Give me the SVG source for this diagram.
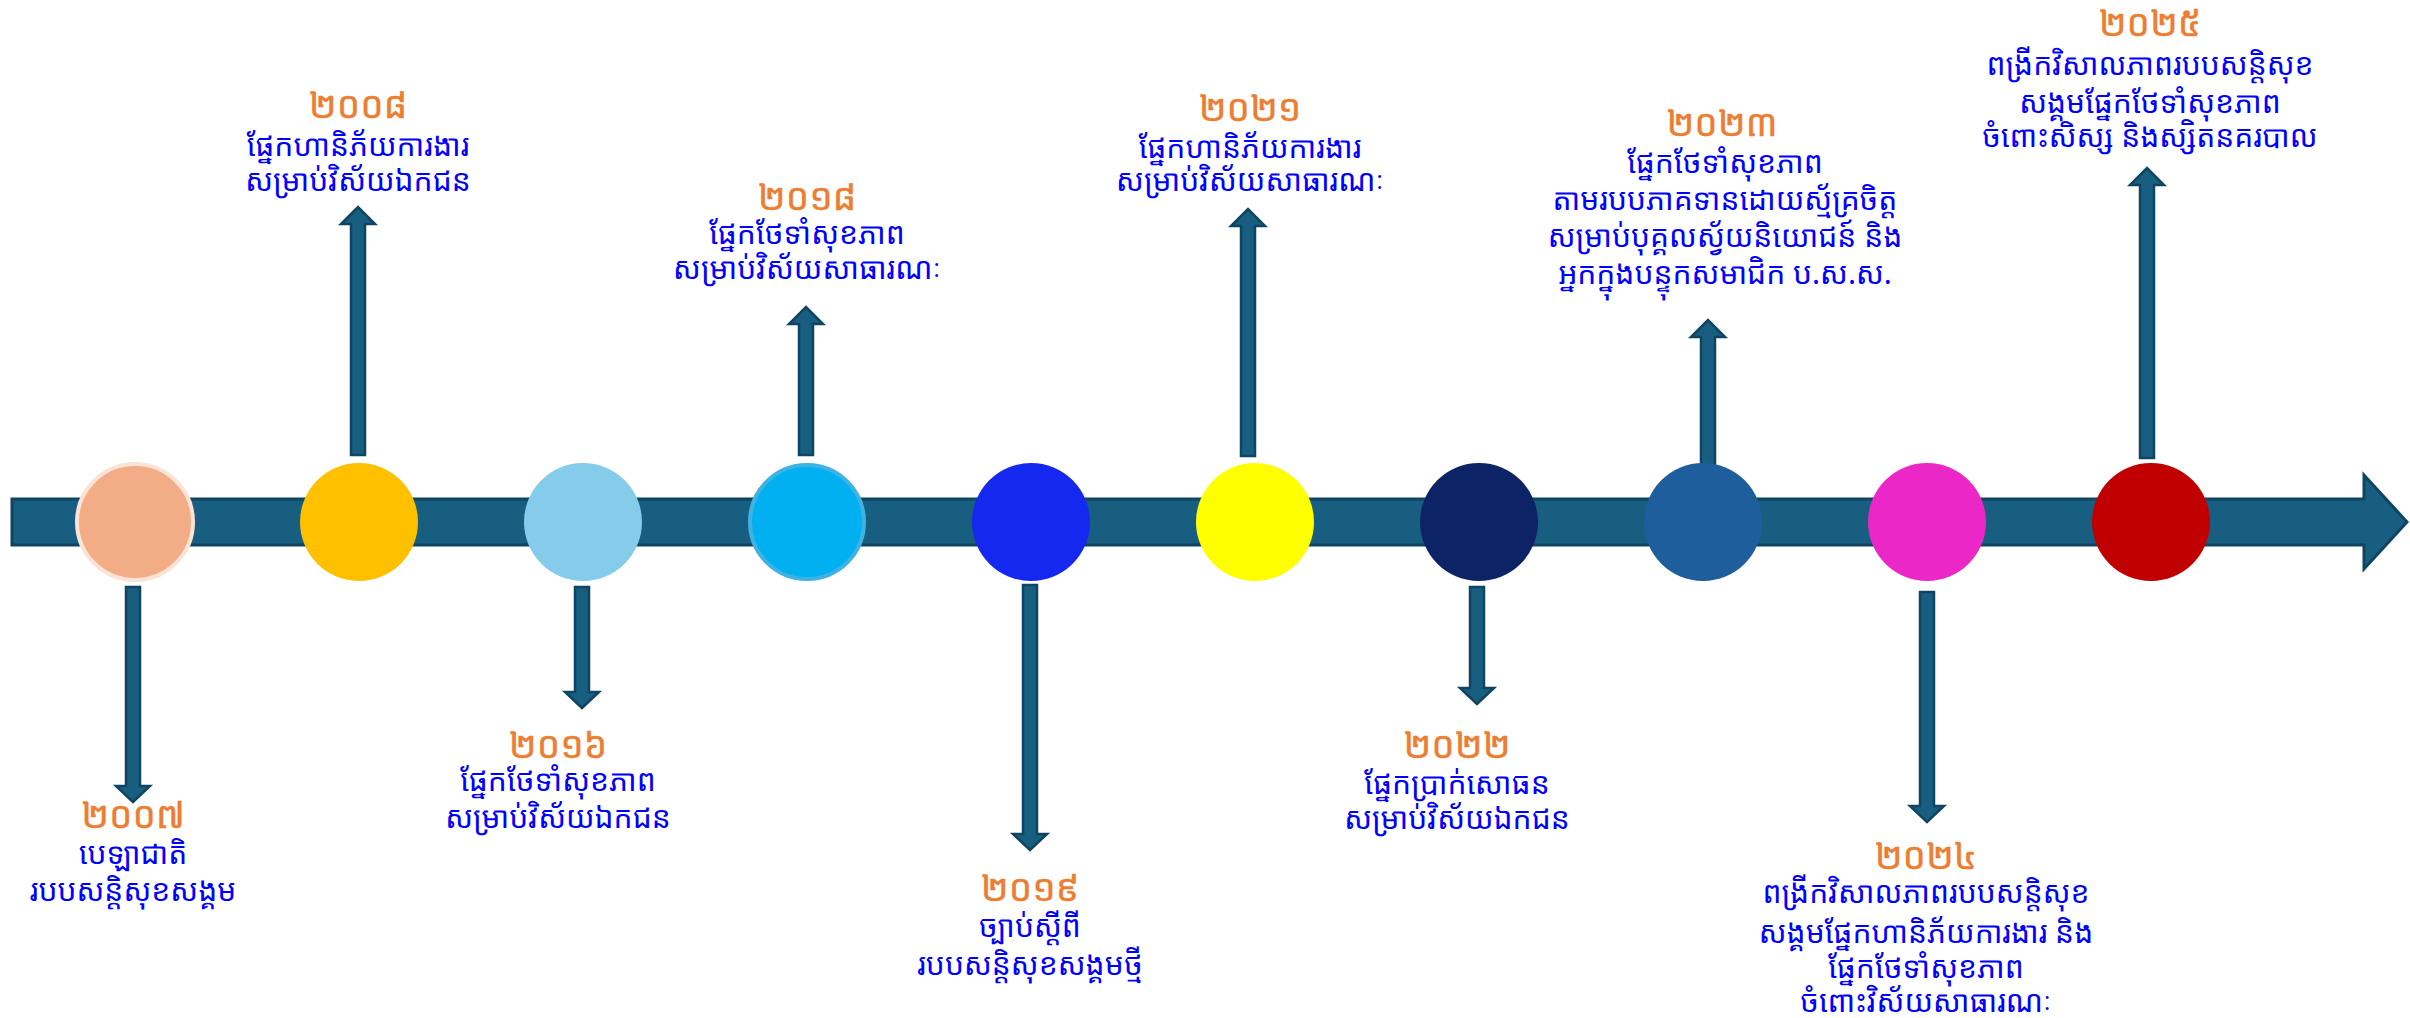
<svg xmlns="http://www.w3.org/2000/svg" width="2410" height="1018" viewBox="0 0 2410 1018">
<style>
.bar{fill:#185E80;stroke:#0F4560;stroke-width:3;stroke-linejoin:miter}
.arr{fill:#185E80;stroke:#0F4560;stroke-width:2.5}
text{font-family:"Khmer OS Battambang","Noto Sans Khmer","Noto Serif Khmer","Khmer OS","Noto Sans",sans-serif;text-anchor:middle}
.yr{fill:#ED7D31;stroke:#ED7D31;stroke-width:0.4;font-size:37px}
.tx{fill:#0000FF;font-size:30px}
</style>
<rect width="2410" height="1018" fill="#FFFFFF"/>
<g id="timeline">
<path class="bar" d="M12,499 H2364 V475 L2407,522 L2364,569 V545 H12 Z"/>
</g>
<g id="connectors">
<path class="arr" d="M126,587 H140 V786 H150 L133,802 L116,786 H126 Z"/>
<path class="arr" d="M351,455 H365 V224 H375 L358,207 L341,224 H351 Z"/>
<path class="arr" d="M575,587 H589 V692 H599 L582,708 L565,692 H575 Z"/>
<path class="arr" d="M799,455 H813 V324 H823 L806,307 L789,324 H799 Z"/>
<path class="arr" d="M1023,585 H1037 V834 H1047 L1030,850 L1013,834 H1023 Z"/>
<path class="arr" d="M1241,456 H1255 V226 H1265 L1248,209 L1231,226 H1241 Z"/>
<path class="arr" d="M1470,587 H1484 V688 H1494 L1477,704 L1460,688 H1470 Z"/>
<path class="arr" d="M1701,467 H1715 V337 H1725 L1708,320 L1691,337 H1701 Z"/>
<path class="arr" d="M1920,592 H1934 V806 H1944 L1927,822 L1910,806 H1920 Z"/>
<path class="arr" d="M2140,458 H2154 V185 H2164 L2147,168 L2130,185 H2140 Z"/>
</g>
<g id="n2007">
<circle cx="135" cy="522" r="58" fill="#F2AC86" stroke="#FBE3D5" stroke-width="4"/>
<text class="yr" x="133" y="828">២០០៧</text>
<text class="tx" x="133" y="864">បេឡាជាតិ</text>
<text class="tx" x="133" y="901">របបសន្តិសុខសង្គម</text>
</g>
<g id="n2008">
<circle cx="359" cy="522" r="59" fill="#FFC000"/>
<text class="yr" x="358" y="118">២០០៨</text>
<text class="tx" x="358" y="156">ផ្នែកហានិភ័យការងារ</text>
<text class="tx" x="358" y="191">សម្រាប់វិស័យឯកជន</text>
</g>
<g id="n2016">
<circle cx="583" cy="522" r="59" fill="#85CBEA"/>
<text class="yr" x="558" y="758">២០១៦</text>
<text class="tx" x="558" y="791">ផ្នែកថែទាំសុខភាព</text>
<text class="tx" x="558" y="828">សម្រាប់វិស័យឯកជន</text>
</g>
<g id="n2018">
<circle cx="807" cy="522" r="57" fill="#00B0F0" stroke="#3FB2E4" stroke-width="4"/>
<text class="yr" x="807" y="210">២០១៨</text>
<text class="tx" x="807" y="244">ផ្នែកថែទាំសុខភាព</text>
<text class="tx" x="807" y="279">សម្រាប់វិស័យសាធារណៈ</text>
</g>
<g id="n2019">
<circle cx="1031" cy="522" r="59" fill="#1428F0"/>
<text class="yr" x="1030" y="901">២០១៩</text>
<text class="tx" x="1030" y="937">ច្បាប់ស្តីពី</text>
<text class="tx" x="1030" y="975">របបសន្តិសុខសង្គមថ្មី</text>
</g>
<g id="n2021">
<circle cx="1255" cy="522" r="59" fill="#FFFF00"/>
<text class="yr" x="1250" y="121">២០២១</text>
<text class="tx" x="1250" y="158">ផ្នែកហានិភ័យការងារ</text>
<text class="tx" x="1250" y="191">សម្រាប់វិស័យសាធារណៈ</text>
</g>
<g id="n2022">
<circle cx="1479" cy="522" r="59" fill="#0C2365"/>
<text class="yr" x="1457" y="758">២០២២</text>
<text class="tx" x="1457" y="794">ផ្នែកប្រាក់សោធន</text>
<text class="tx" x="1457" y="829">សម្រាប់វិស័យឯកជន</text>
</g>
<g id="n2023">
<circle cx="1703" cy="522" r="59" fill="#1F5E9C"/>
<text class="yr" x="1722" y="136">២០២៣</text>
<text class="tx" x="1725" y="173">ផ្នែកថែទាំសុខភាព</text>
<text class="tx" x="1725" y="210">តាមរបបភាគទានដោយស្ម័គ្រចិត្ត</text>
<text class="tx" x="1725" y="247">សម្រាប់បុគ្គលស្វ័យនិយោជន៍ និង</text>
<text class="tx" x="1725" y="284">អ្នកក្នុងបន្ទុកសមាជិក ប.ស.ស.</text>
</g>
<g id="n2024">
<circle cx="1927" cy="522" r="59" fill="#EC27C8"/>
<text class="yr" x="1926" y="869">២០២៤</text>
<text class="tx" x="1926" y="903">ពង្រីកវិសាលភាពរបបសន្តិសុខ</text>
<text class="tx" x="1926" y="943">សង្គមផ្នែកហានិភ័យការងារ និង</text>
<text class="tx" x="1926" y="978">ផ្នែកថែទាំសុខភាព</text>
<text class="tx" x="1926" y="1012">ចំពោះវិស័យសាធារណៈ</text>
</g>
<g id="n2025">
<circle cx="2151" cy="522" r="59" fill="#C00000"/>
<text class="yr" x="2150" y="36">២០២៥</text>
<text class="tx" x="2150" y="75">ពង្រីកវិសាលភាពរបបសន្តិសុខ</text>
<text class="tx" x="2150" y="113">សង្គមផ្នែកថែទាំសុខភាព</text>
<text class="tx" x="2150" y="147">ចំពោះសិស្ស និងស្សិតនគរបាល</text>
</g>
</svg>
